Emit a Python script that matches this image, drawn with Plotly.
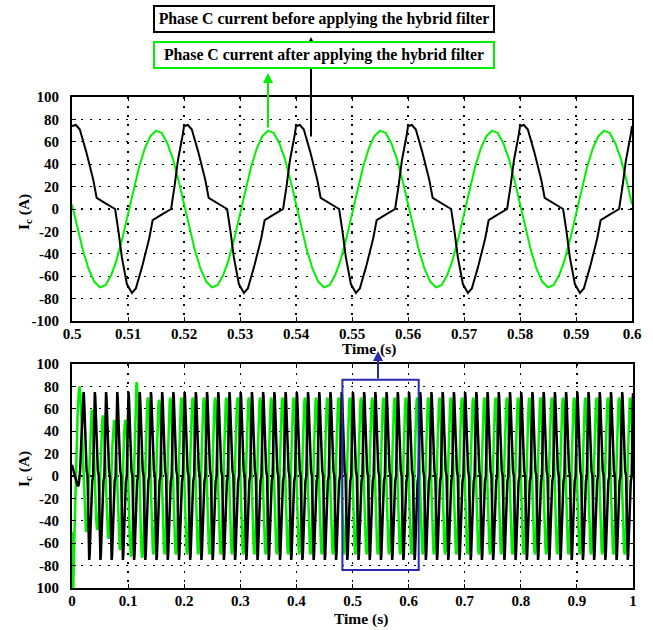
import plotly.graph_objects as go

# ---------------- data ----------------
period = 0.02  # 50 Hz

# one steady-state cycle of phase-C current BEFORE the hybrid filter (offset s, A)
black_cycle_t = [0.0000, 0.0007, 0.0014, 0.0026, 0.0038, 0.0044, 0.0060, 0.0077,
                 0.0083, 0.0089, 0.0098, 0.0107, 0.0114, 0.0126, 0.0138, 0.0144,
                 0.0160, 0.0177, 0.0183, 0.0189, 0.0198]
black_cycle_v = [74, 75, 71, 50, 26, 10, 5, 0,
                 -20, -43, -67, -75, -71, -50, -26, -10,
                 -5, 0, 20, 43, 67]

# one steady-state cycle AFTER the hybrid filter (offset s, A)
green_cycle_t = [0.000, 0.001, 0.002, 0.003, 0.004, 0.005, 0.006, 0.007, 0.008, 0.009,
                 0.010, 0.011, 0.012, 0.013, 0.014, 0.015, 0.016, 0.017, 0.018, 0.019]
green_cycle_v = [4, -17, -38, -54, -65, -70, -68, -59, -45, -26,
                 -4, 17, 38, 54, 65, 70, 68, 59, 45, 26]

# start-up cycle (0 - 0.02 s) of the long record
black_start_t = [0.000, 0.003, 0.007, 0.010, 0.012, 0.0145, 0.0165, 0.0185]
black_start_v = [10, 4, -5, -9, -8, 5, 30, 60]
green_start_t = [0.000, 0.001, 0.002, 0.004, 0.006, 0.008, 0.010, 0.012, 0.0135, 0.015, 0.017, 0.019]
green_start_v = [-50, -85, -108, -60, -15, 25, 55, 75, 80, 72, 45, 15]

# positive / negative peaks of the filtered current in cycles 1..8 (transient)
green_peaks = [59, 54, 50, 50, 84, 70, 68, 70]
green_troughs = [-50, -48, -56, -66, -72, -73, -70, -70]
green_steady_peak = 70

top_range = [0.5, 0.6]
bottom_range = [0.0, 1.0]
top_xticks = [0.5, 0.51, 0.52, 0.53, 0.54, 0.55, 0.56, 0.57, 0.58, 0.59, 0.6]
top_xtext = ["0.5", "0.51", "0.52", "0.53", "0.54", "0.55", "0.56", "0.57", "0.58", "0.59", "0.6"]
bottom_xticks = [0, 0.1, 0.2, 0.3, 0.4, 0.5, 0.6, 0.7, 0.8, 0.9, 1.0]
bottom_xtext = ["0", "0.1", "0.2", "0.3", "0.4", "0.5", "0.6", "0.7", "0.8", "0.9", "1"]
yticks = [-100, -80, -60, -40, -20, 0, 20, 40, 60, 80, 100]
top_ytext = ["-100", "-80", "-60", "-40", "-20", "0", "20", "40", "60", "80", "100"]
bottom_ytext = ["100", "-80", "-60", "-40", "-20", "0", "20", "40", "60", "80", "100"]

zoom_window_x = [0.482, 0.618]
zoom_window_y = [-84, 86]

label_before = "Phase C current before applying the hybrid filter"
label_after = "Phase C current after applying the hybrid filter"

# ---------------- build series ----------------
def tile(ct, cv, k0, k1, t_end):
    t, v = [], []
    for k in range(k0, k1):
        for a, b in zip(ct, cv):
            t.append(k * period + a)
            v.append(b)
    t.append(t_end)
    v.append(cv[0])
    return t, v

top_black_t, top_black_v = tile(black_cycle_t, black_cycle_v, 25, 30, 0.6)
top_green_t, top_green_v = tile(green_cycle_t, green_cycle_v, 25, 30, 0.6)

n_cycles = 50
bb_t, bb_v = list(black_start_t), list(black_start_v)
t_rest, v_rest = tile(black_cycle_t, black_cycle_v, 1, n_cycles, 1.0)
bb_t += t_rest
bb_v += v_rest

bg_t, bg_v = list(green_start_t), list(green_start_v)
for k in range(1, n_cycles):
    pk = green_peaks[k - 1] if k - 1 < len(green_peaks) else green_steady_peak
    tr = green_troughs[k - 1] if k - 1 < len(green_troughs) else -green_steady_peak
    for a, b in zip(green_cycle_t, green_cycle_v):
        bg_t.append(k * period + a)
        bg_v.append(b * pk / green_steady_peak if b > 0 else b * (-tr) / green_steady_peak)
bg_t.append(1.0)
bg_v.append(green_cycle_v[0])

BLACK = "#000000"
GREEN = "#00f000"
BLUE = "#2828b0"
FONT = "Liberation Serif"

fig = go.Figure()
fig.add_trace(go.Scatter(x=top_green_t, y=top_green_v, mode="lines",
                         line=dict(color=GREEN, width=2), xaxis="x", yaxis="y"))
fig.add_trace(go.Scatter(x=top_black_t, y=top_black_v, mode="lines",
                         line=dict(color=BLACK, width=2), xaxis="x", yaxis="y"))
fig.add_trace(go.Scatter(x=bg_t, y=bg_v, mode="lines",
                         line=dict(color=GREEN, width=2.5), xaxis="x2", yaxis="y2"))
fig.add_trace(go.Scatter(x=bb_t, y=bb_v, mode="lines",
                         line=dict(color=BLACK, width=2.5), xaxis="x2", yaxis="y2"))

W, H = 653, 630
px = lambda x: x / W
py = lambda y: 1 - y / H

axis_common = dict(showline=True, linecolor="black", linewidth=2, mirror="ticks",
                   ticks="inside", ticklen=4, tickwidth=1, tickcolor="black",
                   showgrid=True, gridcolor="black", gridwidth=1.3, griddash="2px,7px",
                   zeroline=False, automargin=False,
                   tickfont=dict(family=FONT, size=15, color="black", weight="bold"))

fig.update_layout(
    width=W, height=H, margin=dict(l=0, r=0, t=0, b=0, autoexpand=False),
    paper_bgcolor="white", plot_bgcolor="white", showlegend=False,
    xaxis=dict(domain=[px(72), px(632)], range=top_range, tickvals=top_xticks,
               ticktext=top_xtext, anchor="y", ticklabelstandoff=-2, **axis_common),
    yaxis=dict(domain=[py(321), py(97)], range=[-100, 100], tickvals=yticks,
               ticktext=top_ytext, anchor="x", ticklabelstandoff=8, **axis_common),
    xaxis2=dict(domain=[px(72), px(633)], range=bottom_range, tickvals=bottom_xticks,
                ticktext=bottom_xtext, anchor="y2", ticklabelstandoff=-2, **axis_common),
    yaxis2=dict(domain=[py(588), py(364)], range=[-100, 100], tickvals=yticks,
                ticktext=bottom_ytext, anchor="x2", ticklabelstandoff=8, **axis_common),
)

fig.add_shape(type="rect", xref="x2", yref="y2",
              x0=zoom_window_x[0], x1=zoom_window_x[1],
              y0=zoom_window_y[0], y1=zoom_window_y[1],
              line=dict(color=BLUE, width=2))

title_font = dict(family=FONT, size=15.5, color="black")
C = dict(xref="paper", yref="paper", xanchor="center", yanchor="middle")
ann = []
ann.append(dict(text="<b>Time (s)</b>", x=px(369), y=py(349), showarrow=False, font=title_font, **C))
ann.append(dict(text="<b>Time (s)</b>", x=px(361), y=py(619), showarrow=False, font=title_font, **C))
ann.append(dict(text="<b>I<sub>c</sub> (A)</b>", x=px(24), y=py(212), showarrow=False,
                textangle=-90, font=title_font, **C))
ann.append(dict(text="<b>I<sub>c</sub> (A)</b>", x=px(24), y=py(469), showarrow=False,
                textangle=-90, font=title_font, **C))
# arrows
ann.append(dict(text="", x=px(268), y=py(73), showarrow=True, ax=0, ay=56, arrowhead=2,
                arrowsize=1, arrowwidth=2, arrowcolor=GREEN, **C))
ann.append(dict(text="", x=px(311), y=py(37), showarrow=True, ax=0, ay=101, arrowhead=2,
                arrowsize=1, arrowwidth=2, arrowcolor=BLACK, **C))
ann.append(dict(text="", x=px(378), y=py(351), showarrow=True, ax=0, ay=29, arrowhead=2,
                arrowsize=1, arrowwidth=2, arrowcolor=BLUE, **C))
# label boxes
box_font = dict(family=FONT, size=15.8, color="black")
ann.append(dict(text="<b>" + label_before + "</b>", x=px(323.5), y=py(18.7), showarrow=False,
                font=box_font, bgcolor="white", bordercolor=BLACK, borderwidth=2, borderpad=0,
                width=338, height=24, **C))
ann.append(dict(text="<b>" + label_after + "</b>", x=px(324), y=py(55.2), showarrow=False,
                font=box_font, bgcolor="white", bordercolor=GREEN, borderwidth=2, borderpad=0,
                width=338, height=24, **C))
fig.update_layout(annotations=ann)

# remove the default 8px page margin so the figure fills the window exactly
fig.write_html("out.html", config={"displayModeBar": False, "staticPlot": True},
               post_script="document.body.style.margin='0px';")
